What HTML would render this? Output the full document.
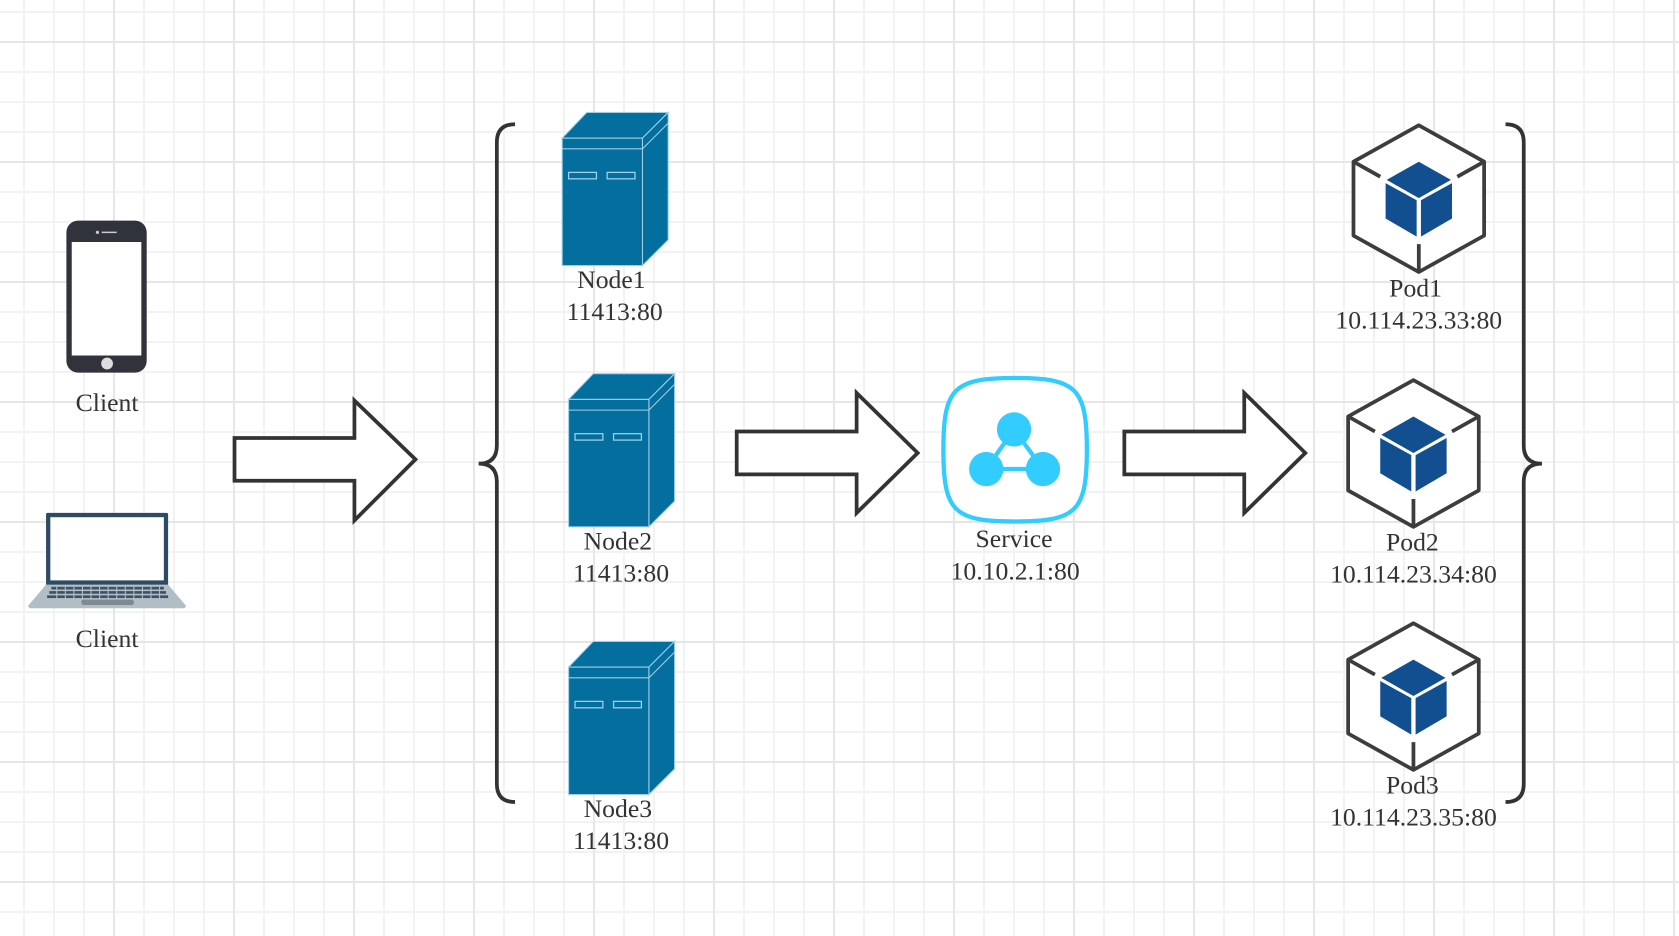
<!DOCTYPE html>
<html><head><meta charset="utf-8"><style>
html,body{margin:0;padding:0;width:1679px;height:936px;overflow:hidden;background:#fff;}
body{
background-image:
linear-gradient(to right,#e6e6e6 0,#e6e6e6 2px,transparent 2px),
linear-gradient(to bottom,#e6e6e6 0,#e6e6e6 2px,transparent 2px),
linear-gradient(to right,#f2f2f2 0,#f2f2f2 2px,transparent 2px),
linear-gradient(to bottom,#f2f2f2 0,#f2f2f2 2px,transparent 2px);
background-size:120px 120px,120px 120px,30px 30px,30px 30px;
background-position:113px 0,0 41px,23px 0,0 11px;
}
svg{position:absolute;left:0;top:0;}
text{font-family:"Liberation Serif",serif;font-size:24px;fill:#333;text-anchor:middle;}
</style></head><body>
<svg width="1679" height="936" viewBox="0 0 1568 874.1" preserveAspectRatio="none">
<!-- phone -->
<rect x="62" y="206" width="75" height="142" rx="11" fill="#30333b"/>
<rect x="67" y="226" width="65" height="106" fill="#fff"/>
<circle cx="100" cy="339.5" r="5.5" fill="#ddd"/>
<circle cx="91" cy="217" r="1.5" fill="#ccc"/>
<rect x="95" y="216.3" width="14" height="1.4" fill="#ccc"/>
<text x="100" y="384">Client</text>
<!-- laptop -->
<rect x="43" y="479" width="114" height="68" rx="1.5" fill="#2f4a63"/>
<rect x="47" y="483" width="106" height="59" fill="#fff"/>
<path d="M43 546 L157 546 L174 566 L172 568 L28 568 L26 566 Z" fill="#b2bec6"/>
<g fill="#3d5266">
<rect x="48" y="548" width="105" height="2.5"/><rect x="46" y="552" width="109" height="2.5"/><rect x="44" y="556" width="113" height="2.5"/>
</g>
<g stroke="#b2bec6" stroke-width="1">
<path d="M53 547V559M61 547V559M69 547V559M77 547V559M85 547V559M93 547V559M101 547V559M109 547V559M117 547V559M125 547V559M133 547V559M141 547V559M149 547V559"/>
</g>
<rect x="76" y="560" width="49" height="5" rx="2" fill="#7d8a92"/>
<text x="100" y="604">Client</text>
<!-- arrows -->
<g fill="#fff" stroke="#333" stroke-width="3.5" stroke-linejoin="miter">
<path d="M219 409 H331 V374 L388 429 L331 486 V449 H219 Z"/>
<path d="M688 403 H800 V367 L857 423 L800 479 V443 H688 Z"/>
<path d="M1050 403 H1162 V367 L1219 423 L1162 479 V443 H1050 Z"/>
</g>
<!-- braces -->
<g fill="none" stroke="#333" stroke-width="3.5">
<path d="M481 116 Q464 116 464 133 V416 Q464 433 447 433 Q464 433 464 450 V732 Q464 749 481 749"/>
<path d="M1406 116 Q1423 116 1423 133 V416 Q1423 433 1440 433 Q1423 433 1423 450 V732 Q1423 749 1406 749"/>
</g>
<!-- servers -->
<defs>
<g id="srv">
<path d="M0 24 L23 0 H99 L75 24 Z" fill="#046e9f" stroke="#9fd0e6" stroke-width="1"/>
<path d="M75 24 L99 0 V119 L75 143 Z" fill="#046e9f" stroke="#9fd0e6" stroke-width="1"/>
<rect x="0" y="24" width="75" height="119" fill="#046e9f" stroke="#9fd0e6" stroke-width="1"/>
<path d="M0 34 H75 L99 10" fill="none" stroke="#9fd0e6" stroke-width="1"/>
<rect x="6" y="56" width="26" height="6" fill="none" stroke="#9fd0e6" stroke-width="1.2"/>
<rect x="42" y="56" width="26" height="6" fill="none" stroke="#9fd0e6" stroke-width="1.2"/>
</g>
<g id="pod">
<path d="M0 -68 L61 -34 V35 L0 69 L-61 35 V-34 Z" fill="#fff" stroke="#3d3d3d" stroke-width="3.5" stroke-linejoin="round"/>
<path d="M-61 -34 L-36 -20 M61 -34 L36 -20 M0 43 V69" stroke="#3d3d3d" stroke-width="3.5"/>
<path d="M0 -34 L30 -17 L0 0 L-30 -17 Z" fill="#124f91"/>
<path d="M-31 -14 L-2 2 V36 L-31 19 Z" fill="#124f91"/>
<path d="M31 -14 L2 2 V36 L31 19 Z" fill="#124f91"/>
</g>
</defs>
<use href="#srv" x="525" y="105"/>
<use href="#srv" x="531" y="349"/>
<use href="#srv" x="531" y="599"/>
<text x="571" y="269">Node1</text><text x="574" y="299">11413:80</text>
<text x="577" y="513">Node2</text><text x="580" y="543">11413:80</text>
<text x="577" y="763">Node3</text><text x="580" y="793">11413:80</text>
<!-- service -->
<path d="M948 353 C1005 353 1015 362 1015 420 C1015 478 1005 487 948 487 C891 487 881 478 881 420 C881 362 891 353 948 353 Z" fill="#fff" stroke="#33ccff" stroke-width="4"/>
<g stroke="#33ccff" stroke-width="4"><path d="M947 401 L921 438 L974 438 Z" fill="none"/></g>
<g fill="#33ccff"><circle cx="947" cy="401" r="16"/><circle cx="921" cy="438" r="16"/><circle cx="974" cy="438" r="16"/></g>
<text x="947" y="511">Service</text><text x="948" y="541">10.10.2.1:80</text>
<!-- pods -->
<use href="#pod" x="1325" y="185"/>
<use href="#pod" x="1320" y="423"/>
<use href="#pod" x="1320" y="650"/>
<text x="1322" y="277">Pod1</text><text x="1325" y="307">10.114.23.33:80</text>
<text x="1319" y="514">Pod2</text><text x="1320" y="544">10.114.23.34:80</text>
<text x="1319" y="741">Pod3</text><text x="1320" y="771">10.114.23.35:80</text>
</svg>
</body></html>
